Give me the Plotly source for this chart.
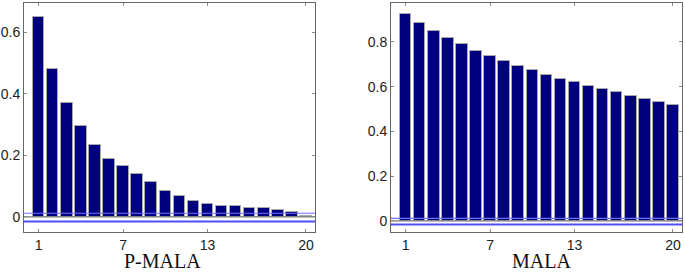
import plotly.graph_objects as go
from plotly.subplots import make_subplots

lags = list(range(1, 21))
pmala_acf = [0.649, 0.481, 0.370, 0.295, 0.235, 0.190, 0.165, 0.141, 0.114, 0.086,
             0.068, 0.052, 0.041, 0.034, 0.037, 0.030, 0.028, 0.024, 0.015, 0.004]
mala_acf = [0.926, 0.883, 0.849, 0.816, 0.789, 0.761, 0.735, 0.714, 0.692, 0.674,
            0.652, 0.634, 0.619, 0.604, 0.589, 0.574, 0.559, 0.544, 0.531, 0.516]
pmala_band = [0.012, -0.015]
mala_band = [0.011, -0.017]
x_ticks = [1, 7, 13, 20]
pmala_yticks = [0, 0.2, 0.4, 0.6]
mala_yticks = [0, 0.2, 0.4, 0.6, 0.8]
titles = ["P-MALA", "MALA"]

x_range = [-0.04, 20.64]

W, H = 685, 278
T, B = 3, 46
PH = H - T - B

fig = make_subplots(rows=1, cols=2)

panels = [
    (pmala_acf, pmala_band, pmala_yticks, [-0.049, 0.696], 1),
    (mala_acf, mala_band, mala_yticks, [-0.05, 0.974], 2),
]

for vals, band, yt, yr, col in panels:
    fig.add_trace(go.Bar(x=lags, y=vals, width=0.82,
                         marker=dict(color="#00007f", line=dict(color="#a8a8a8", width=1))),
                  row=1, col=col)
    fig.add_trace(go.Scatter(x=x_range, y=[0, 0], mode="lines",
                             line=dict(color="#777777", width=1.2)), row=1, col=col)
    fig.add_trace(go.Scatter(x=x_range, y=[band[0]] * 2, mode="lines",
                             line=dict(color="#6f6fff", width=1.2)), row=1, col=col)
    fig.add_trace(go.Scatter(x=x_range, y=[band[1]] * 2, mode="lines",
                             line=dict(color="#4f4fff", width=2)), row=1, col=col)
    fig.update_yaxes(range=yr, tickvals=yt, ticktext=[("0" if v == 0 else f"{v:g}") for v in yt],
                     row=1, col=col)
    fig.update_xaxes(range=x_range, tickvals=x_ticks, row=1, col=col)

axis_style = dict(showline=True, mirror="ticks", linecolor="#666666", linewidth=1,
                  ticks="inside", ticklen=3, tickcolor="#888888", showgrid=False, zeroline=False,
                  automargin=False,
                  tickfont=dict(family="Liberation Sans, Arial", size=14, color="#222222"))
fig.update_xaxes(**axis_style)
fig.update_yaxes(**axis_style)

fig.update_layout(
    width=W, height=H,
    margin=dict(l=0, r=0, t=T, b=B, autoexpand=False),
    paper_bgcolor="white", plot_bgcolor="white",
    showlegend=False, bargap=0,
    xaxis=dict(domain=[24 / W, 315 / W]),
    xaxis2=dict(domain=[391 / W, 682 / W]),
)

title_y = (H - B - 261) / PH
for t, cx in zip(titles, [162, 541]):
    fig.add_annotation(text=t, x=cx / W, y=title_y, xref="paper", yref="paper",
                       showarrow=False, yanchor="middle", xanchor="center",
                       font=dict(family="Liberation Serif, Times New Roman", size=20, color="#111111"))

fig.write_html("out.html", config={"displayModeBar": False},
               post_script="document.body.style.margin='0';document.body.style.overflow='hidden';")
